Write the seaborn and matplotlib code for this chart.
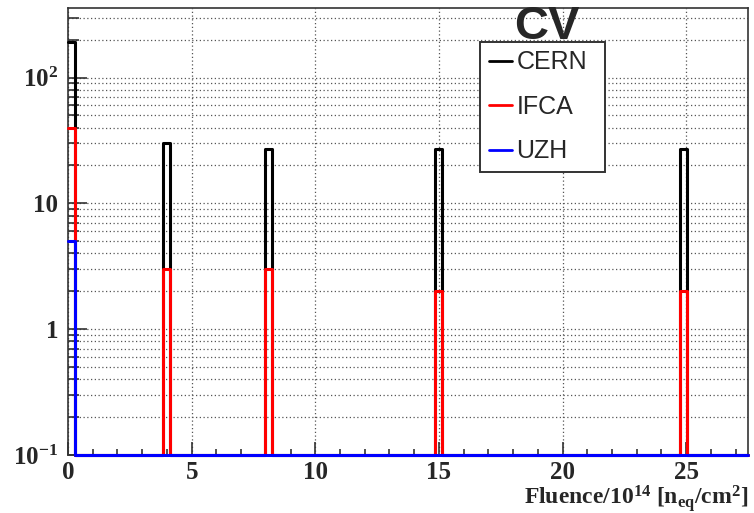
import numpy as np
import pandas as pd
import matplotlib
matplotlib.use("Agg")
import matplotlib.pyplot as plt
from matplotlib.ticker import FixedLocator, FixedFormatter, LogLocator, MultipleLocator, NullFormatter
import seaborn as sns

# Irradiation fluences (x 1e14 n_eq/cm^2) and number of CV measurements per site
fluence = [0, 4, 8, 15, 25]
cern = [150, 27, 24, 25, 25]
ifca = [35, 3, 3, 2, 2]
uzh = [5, 0, 0, 0, 0]

sites = ["CERN", "IFCA", "UZH"]
colors = {"CERN": "#000000", "IFCA": "#ff0000", "UZH": "#0000ff"}

y_ticks = [0.1, 1, 10, 100]
y_ticklabels = [r"$10^{-1}$", "1", "10", r"$10^{2}$"]
x_ticks = [0, 5, 10, 15, 20, 25]

x_max = 27.5
n_bins = 100
y_min, y_max = 0.1, 357

sns.set_theme(style="white")
plt.rcParams.update({
    "font.family": ["Liberation Serif", "DejaVu Serif"],
    "font.weight": "bold",
    "mathtext.fontset": "custom",
    "mathtext.rm": "Liberation Serif:bold",
    "mathtext.it": "Liberation Serif:italic:bold",
    "mathtext.bf": "Liberation Serif:bold",
    "mathtext.default": "rm",
    "axes.edgecolor": "black",
    "axes.linewidth": 1.0,
})

edges = np.linspace(0, x_max, n_bins + 1)
centers = 0.5 * (edges[:-1] + edges[1:])

df = pd.DataFrame({"fluence": fluence, "CERN": cern, "IFCA": ifca, "UZH": uzh})
# stacked totals: UZH at the bottom, then IFCA, CERN on top
stack = {
    "UZH": df["UZH"].to_numpy(float),
    "IFCA": (df["UZH"] + df["IFCA"]).to_numpy(float),
    "CERN": (df["UZH"] + df["IFCA"] + df["CERN"]).to_numpy(float),
}

fig = plt.figure(figsize=(7.54, 5.13), dpi=100)
ax = fig.add_axes([68 / 754, 1 - 455 / 513, 680 / 754, 447 / 513])
ax.set_yscale("log")

for site in sites:
    heights, _ = np.histogram(df["fluence"], bins=edges, weights=stack[site])
    # empty bins sit on the lower edge of the frame
    binned = pd.DataFrame({"x": centers, "w": np.maximum(heights, y_min)})
    sns.histplot(data=binned, x="x", weights="w", bins=list(edges), element="step", fill=False,
                 color=colors[site], linewidth=2.2, label=site, ax=ax,
                 clip_on=False, zorder=5)

ax.set_xlim(0, x_max)
ax.set_ylim(y_min, y_max)

# grid
ax.yaxis.set_major_locator(FixedLocator(y_ticks))
ax.yaxis.set_major_formatter(FixedFormatter(y_ticklabels))
ax.yaxis.set_minor_locator(LogLocator(base=10, subs=np.arange(2, 10)))
ax.yaxis.set_minor_formatter(NullFormatter())
ax.xaxis.set_major_locator(FixedLocator(x_ticks))
ax.xaxis.set_minor_locator(MultipleLocator(1))
ax.grid(True, which="major", axis="both", color="#555555", linestyle=(0, (1, 2)), linewidth=0.9)
ax.grid(True, which="minor", axis="y", color="#555555", linestyle=(0, (1, 2)), linewidth=0.9)
ax.set_axisbelow(True)

ax.tick_params(axis="y", which="major", direction="in", length=14, width=1.2, labelsize=18, pad=7,
               left=True, right=False, color="#333333")
ax.tick_params(axis="y", which="minor", direction="in", length=8, width=1.2, left=True, right=False,
               color="#333333")
ax.tick_params(axis="x", which="major", direction="in", length=9.5, width=1.2, labelsize=18, pad=4,
               bottom=True, top=False, color="#333333")
ax.tick_params(axis="x", which="minor", direction="in", length=4.5, width=1.2, bottom=True, top=False,
               color="#333333")
ax.set_ylabel("")
ax.set_xlabel(r"Fluence/10$^{14}$ [n$_{eq}$/cm$^{2}$]", fontsize=17, fontweight="bold")
ax.xaxis.set_label_coords(1.0, -0.062)
ax.xaxis.label.set_horizontalalignment("right")

for s in ax.spines.values():
    s.set_color("#333333")
    s.set_linewidth(1.2)

leg = ax.legend(loc="upper left", bbox_to_anchor=(0.606, 0.631, 0.184, 0.293), mode="expand",
                borderaxespad=0, frameon=True, fancybox=False, shadow=False,
                prop={"family": "Liberation Sans", "weight": "normal", "size": 18},
                handlelength=0.92, handletextpad=0.2, labelspacing=0.82, borderpad=0.34)
leg.get_frame().set_edgecolor("#333333")
leg.get_frame().set_linewidth(1.4)
leg.get_frame().set_alpha(1)
for h in leg.get_lines():
    h.set_linewidth(2.0)

fig.text(547 / 754, 1 - 27 / 513, "CV", ha="center", va="center", fontsize=34,
         fontweight="bold", family="Liberation Sans", zorder=10)

fig.savefig("out.png", dpi=100, facecolor="white")
